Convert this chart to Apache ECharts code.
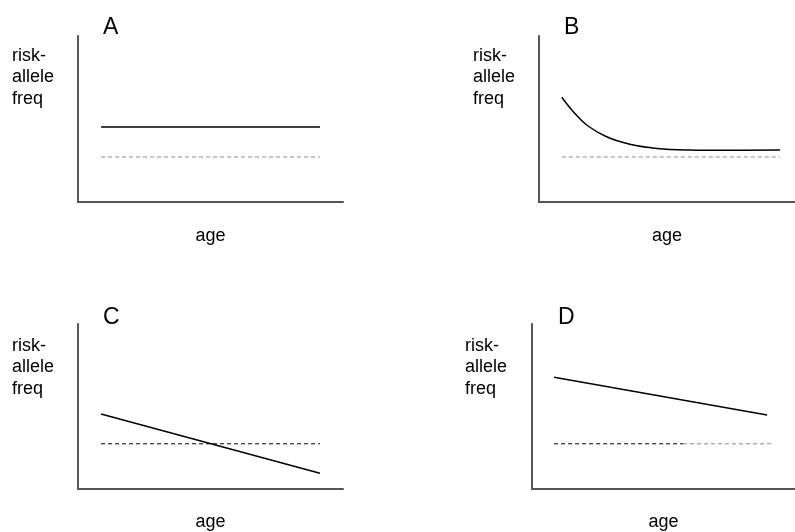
<!DOCTYPE html>
<html>
<head>
<meta charset="utf-8">
<script src="https://cdn.jsdelivr.net/npm/echarts@6/dist/echarts.min.js"></script>
<style>
  html, body { margin: 0; padding: 0; background: #fff; }
  #main { width: 795px; height: 532px; }
</style>
</head>
<body>
<div id="main"></div>
<script>
// panel letters and axis texts
var panelLetters = ['A', 'B', 'C', 'D'];
var yLabel = 'risk-\nallele\nfreq';
var xLabel = 'age';

// panel A: flat line
var ageA = [8.7, 91.3];
var solidA = [45.2, 45.2];
var dashA = [27.1, 27.1];

// panel B: decaying curve
var ageB = [8.9, 13.4, 18.6, 26.4, 35.5, 46.0, 59.0, 71.9, 94.1];
var curveB = [63.1, 54.4, 46.4, 39.3, 34.8, 32.3, 31.3, 31.1, 31.3];
var ageBDash = [8.9, 94.1];
var dashB = [27.1, 27.1];

// panel C: steep decline crossing baseline
var ageC = [8.7, 91.3];
var solidC = [45.5, 9.6];
var dashC = [27.4, 27.4];

// panel D: gentle decline above baseline
var ageD = [8.4, 89.4];
var solidD = [67.7, 44.9];
var ageDDashBlack = [8.4, 57.4];
var ageDDashGray = [57.4, 92.0];
var dashD = [27.4, 27.4];

var grids = [
  {left: 78, top: 36, width: 265, height: 166},
  {left: 539, top: 36, width: 256, height: 166},
  {left: 78, top: 324, width: 265, height: 167},
  {left: 532, top: 324, width: 263, height: 167}
];
var letterPos = [[103, 16], [564, 16], [103, 306], [558, 306]];
var yLabelPos = [[12, 45], [473, 45], [12, 335], [465, 335]];
var nameGaps = [25, 25, 24, 24];

function pairs(xs, ys) {
  return xs.map(function (x, i) { return [x, ys[i]]; });
}

var font = 'Liberation Sans, Arial, sans-serif';

var titles = [];
panelLetters.forEach(function (l, i) {
  titles.push({
    text: l, left: letterPos[i][0], top: letterPos[i][1], padding: 0,
    textStyle: {fontFamily: font, fontSize: 23, fontWeight: 'normal', color: '#000', lineHeight: 23}
  });
  titles.push({
    text: yLabel, left: yLabelPos[i][0], top: yLabelPos[i][1], padding: 0,
    textStyle: {fontFamily: font, fontSize: 18, fontWeight: 'normal', color: '#000', lineHeight: 21.5}
  });
});

var xAxes = grids.map(function (g, i) {
  return {
    type: 'value', gridIndex: i, min: 0, max: 100,
    name: xLabel, nameLocation: 'middle', nameGap: nameGaps[i],
    nameTextStyle: {fontFamily: font, fontSize: 18, color: '#000', lineHeight: 18},
    axisLine: {show: true, lineStyle: {color: '#555', width: 2}},
    axisTick: {show: false}, axisLabel: {show: false}, splitLine: {show: false}
  };
});
var yAxes = grids.map(function (g, i) {
  return {
    type: 'value', gridIndex: i, min: 0, max: 100,
    axisLine: {show: true, lineStyle: {color: '#555', width: 2}},
    axisTick: {show: false}, axisLabel: {show: false}, splitLine: {show: false}
  };
});

function solid(idx, data, smooth) {
  return {
    type: 'line', xAxisIndex: idx, yAxisIndex: idx, data: data,
    symbol: 'none', smooth: smooth || false,
    lineStyle: {color: '#000', width: 1.5}
  };
}
function dashed(idx, data, color) {
  return {
    type: 'line', xAxisIndex: idx, yAxisIndex: idx, data: data,
    symbol: 'none',
    lineStyle: {color: color, width: 1, type: [4, 3]}
  };
}

var myChart = echarts.init(document.getElementById('main'));
var option = {
  animation: false,
  backgroundColor: '#fff',
  title: titles,
  grid: grids,
  xAxis: xAxes,
  yAxis: yAxes,
  series: [
    dashed(0, pairs(ageA, dashA), '#8c8c8c'),
    solid(0, pairs(ageA, solidA)),
    dashed(1, pairs(ageBDash, dashB), '#8c8c8c'),
    solid(1, pairs(ageB, curveB), 0.4),
    dashed(2, pairs(ageC, dashC), '#000'),
    solid(2, pairs(ageC, solidC)),
    dashed(3, pairs(ageDDashBlack, dashD), '#000'),
    dashed(3, pairs(ageDDashGray, dashD), '#8c8c8c'),
    solid(3, pairs(ageD, solidD))
  ]
};
myChart.setOption(option);
</script>
</body>
</html>
